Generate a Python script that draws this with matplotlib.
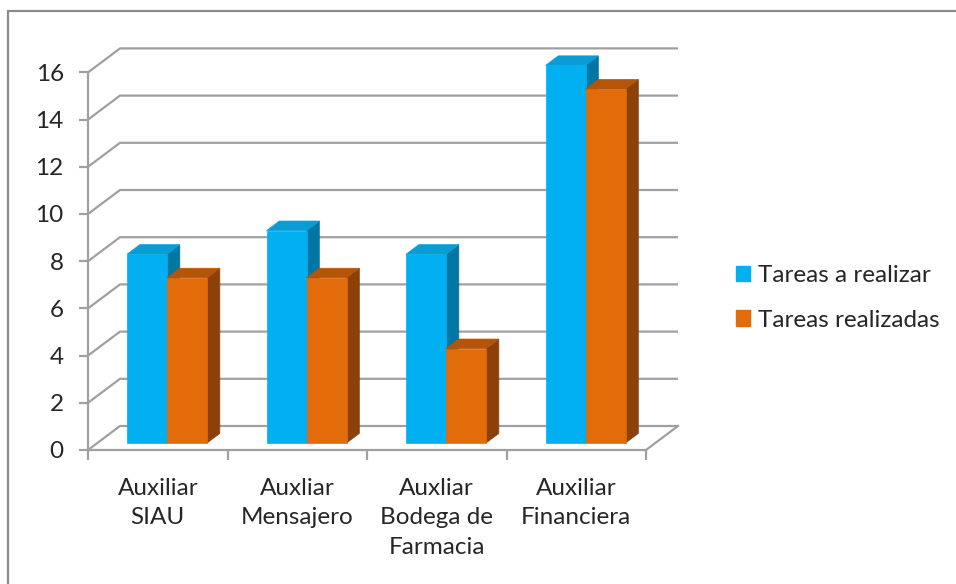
import matplotlib
matplotlib.use('Agg')
import matplotlib.pyplot as plt
from matplotlib.patches import Polygon, Rectangle, Patch

plt.rcParams['font.family'] = ['Lato', 'DejaVu Sans']

categories = ['Auxiliar\nSIAU', 'Auxliar\nMensajero', 'Auxliar\nBodega de\nFarmacia', 'Auxiliar\nFinanciera']
series_names = ['Tareas a realizar', 'Tareas realizadas']
a_realizar = [8, 9, 8, 16]
realizadas = [7, 7, 4, 15]
y_ticks = [0, 2, 4, 6, 8, 10, 12, 14, 16]

# colours: front, top, side
blue = ('#00B0F0', '#0C9CD4', '#0077A3')
orange = ('#E36C0A', '#B5550A', '#8C4108')
grid_c = '#A0A0A0'
text_c = '#262626'
fs = 17.5

W, H = 9.56, 5.84
fig = plt.figure(figsize=(W, H), dpi=100)

# plot box in pixels
px_left, px_bottom = 88, 450
px_cat, px_unit = 139.5, 23.6
xmax, ymax = 4.3, 17.3
ax = fig.add_axes([px_left / 956, (584 - px_bottom) / 584,
                   xmax * px_cat / 956, ymax * px_unit / 584])
ax.set_xlim(0, xmax)
ax.set_ylim(0, ymax)
ax.patch.set_alpha(0)

# depth vector of the 3D box (data units)
DX, DY = 32 / px_cat, 24 / px_unit
ncat = len(categories)

# back wall gridlines and side wall diagonals
for y in y_ticks:
    ax.plot([0, DX, ncat + DX], [y, y + DY, y + DY], color=grid_c, lw=1.6,
            zorder=1, solid_capstyle='butt', clip_on=False)
# right edge of the floor
ax.plot([ncat, ncat + DX], [0, DY], color=grid_c, lw=1.6, zorder=1, clip_on=False)

# bars
bw = 40 / px_cat
f0, fd = 0.29, 0.40
sx, sy = f0 * DX, f0 * DY
ddx, ddy = fd * DX, fd * DY


def bar3d(x0, v, cols):
    xl, xr = x0 + sx, x0 + bw + sx
    front = [(xl, sy), (xr, sy), (xr, v + sy), (xl, v + sy)]
    top = [(xl, v + sy), (xr, v + sy), (xr + ddx, v + sy + ddy), (xl + ddx, v + sy + ddy)]
    side = [(xr, sy), (xr + ddx, sy + ddy), (xr + ddx, v + sy + ddy), (xr, v + sy)]
    for pts, c in zip([side, top, front], [cols[2], cols[1], cols[0]]):
        ax.add_patch(Polygon(pts, closed=True, facecolor=c, edgecolor=c,
                             lw=0.5, zorder=3, clip_on=False))


for i in range(ncat):
    c = i + 0.5
    bar3d(c - bw, a_realizar[i], blue)
    bar3d(c, realizadas[i], orange)

# axes lines and ticks
for s in ['top', 'right']:
    ax.spines[s].set_visible(False)
for s in ['left', 'bottom']:
    ax.spines[s].set_color(grid_c)
    ax.spines[s].set_linewidth(1.6)
    ax.spines[s].set_zorder(2)
ax.spines['left'].set_bounds(0, 16)
ax.spines['bottom'].set_bounds(0, ncat)

ax.set_yticks(y_ticks)
ax.set_yticklabels([str(t) for t in y_ticks])
ax.tick_params(axis='y', direction='out', length=6.5, width=1.6, color=grid_c,
               pad=11, labelsize=fs, labelcolor=text_c)

ax.set_xticks(range(ncat + 1))
ax.set_xticklabels([''] * (ncat + 1))
ax.set_xticks([i + 0.5 for i in range(ncat)], minor=True)
ax.set_xticklabels(categories, minor=True, linespacing=1.5)
ax.tick_params(axis='x', which='major', direction='out', length=7.2, width=1.6, color=grid_c)
ax.tick_params(axis='x', which='minor', length=0, pad=20, labelsize=fs, labelcolor=text_c)

# legend
handles = [Patch(facecolor=blue[0], edgecolor=blue[0]),
           Patch(facecolor=orange[0], edgecolor=orange[0])]
fig.legend(handles, series_names, loc='center left',
           bbox_to_anchor=(714 / 956, (584 - 298) / 584), frameon=False,
           fontsize=fs, labelcolor=text_c, handlelength=0.58, handleheight=0.58,
           handletextpad=0.35, labelspacing=0.95)

# chart border
fig.add_artist(Rectangle((8 / 956, -0.05), 1.0, (584 - 11) / 584 + 0.05,
                         transform=fig.transFigure, fill=False,
                         edgecolor='#8A8A8A', lw=1.6))

fig.savefig('out.png', dpi=100)
